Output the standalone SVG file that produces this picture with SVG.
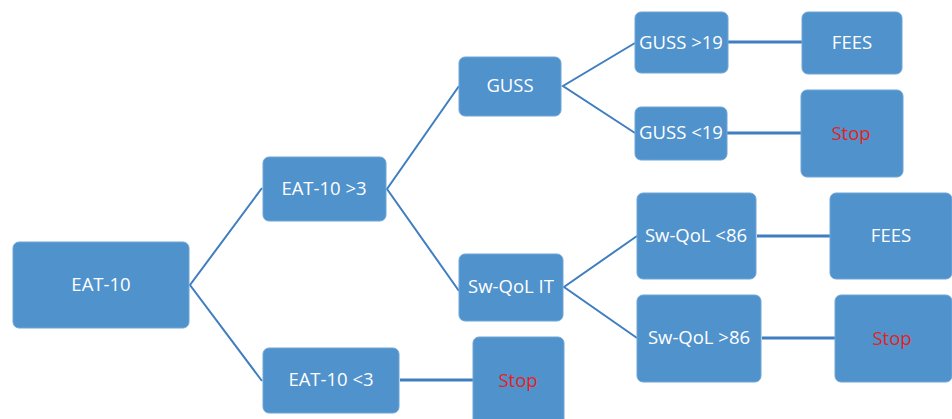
<svg xmlns="http://www.w3.org/2000/svg" width="952" height="419" viewBox="0 0 952 419">
<style>
.b{fill:#4F92CC;stroke:#6FA6D8;stroke-width:1}
.t{font-family:"Open Sans","Liberation Sans",sans-serif;font-size:18.5px;fill:#FFFFFF;text-anchor:middle;dominant-baseline:central}
.r{fill:#E3231F}
.c{stroke:#3F7EC0;stroke-width:2;fill:none}
.h{stroke:#3F7EC0;stroke-width:3;fill:none}
</style>
<rect width="952" height="419" fill="#FFFFFF"/>
<g id="connectors">
<polyline class="c" points="262,188 190,285 262,381"/>
<polyline class="c" points="459,86 387,189 459,291"/>
<polyline class="c" points="635,43 563,86 635,133"/>
<polyline class="c" points="637,236 564,287 637,338"/>
<line class="h" x1="728" y1="42" x2="802" y2="42"/>
<line class="h" x1="727" y1="133" x2="801" y2="133"/>
<line class="h" x1="757" y1="236" x2="830" y2="236"/>
<line class="h" x1="762" y1="338" x2="835" y2="338"/>
<line class="h" x1="400" y1="380" x2="473" y2="380"/>
</g>
<g id="eat10"><rect class="b" x="13" y="242" width="176" height="86" rx="6"/><text class="t" x="101" y="283">EAT-10</text></g>
<g id="eat10gt3"><rect class="b" x="263" y="157" width="123" height="64" rx="6"/><text class="t" x="324" y="187">EAT-10 &gt;3</text></g>
<g id="eat10lt3"><rect class="b" x="263" y="348" width="136" height="65" rx="6"/><text class="t" x="331" y="378">EAT-10 &lt;3</text></g>
<g id="stop1"><rect class="b" x="473" y="337" width="91" height="90" rx="6"/><text class="t r" x="518" y="379">Stop</text></g>
<g id="guss"><rect class="b" x="459" y="57" width="102" height="59" rx="6"/><text class="t" x="510" y="84">GUSS</text></g>
<g id="swqolit"><rect class="b" x="459" y="254" width="104" height="67" rx="6"/><text class="t" x="511" y="285">Sw-QoL IT</text></g>
<g id="gussgt19"><rect class="b" x="635" y="12" width="93" height="61" rx="6"/><text class="t" x="681" y="41">GUSS &gt;19</text></g>
<g id="gusslt19"><rect class="b" x="635" y="107" width="92" height="53" rx="6"/><text class="t" x="681" y="131">GUSS &lt;19</text></g>
<g id="fees1"><rect class="b" x="802" y="12" width="100" height="62" rx="6"/><text class="t" x="852" y="41">FEES</text></g>
<g id="stop2"><rect class="b" x="801" y="90" width="102" height="87" rx="6"/><text class="t r" x="851" y="132">Stop</text></g>
<g id="swqollt86"><rect class="b" x="637" y="193" width="119" height="86" rx="6"/><text class="t" x="696" y="234">Sw-QoL &lt;86</text></g>
<g id="swqolgt86"><rect class="b" x="637" y="295" width="124" height="87" rx="6"/><text class="t" x="699" y="336">Sw-QoL &gt;86</text></g>
<g id="fees2"><rect class="b" x="830" y="193" width="122" height="86" rx="6"/><text class="t" x="891" y="234">FEES</text></g>
<g id="stop3"><rect class="b" x="835" y="295" width="117" height="87" rx="6"/><text class="t r" x="892" y="337">Stop</text></g>
</svg>
